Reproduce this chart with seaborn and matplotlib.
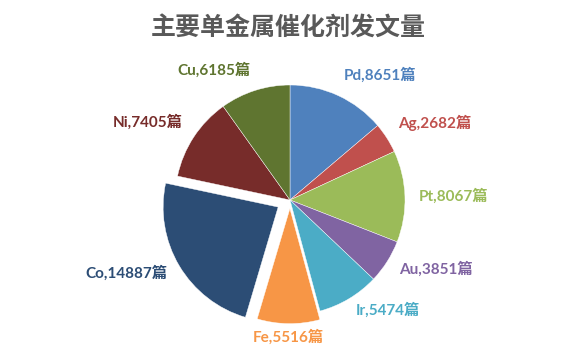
import numpy as np
import matplotlib
matplotlib.use("Agg")
import matplotlib.pyplot as plt
import seaborn as sns

# ---- data ----
metals = ["Pd", "Ag", "Pt", "Au", "Ir", "Fe", "Co", "Ni", "Cu"]
counts = [8651, 2682, 8067, 3851, 5474, 5516, 14887, 7405, 6185]
unit = "篇"
title = "主要单金属催化剂发文量"
colors = ["#4F81BD", "#C0504D", "#9BBB59", "#8064A2", "#4BACC6",
          "#F79646", "#2C4D75", "#772C2A", "#5F7530"]
explode = [0, 0, 0, 0, 0, 0.075, 0.12, 0, 0]

sns.set_theme(style="white")
plt.rcParams["font.family"] = ["Lato", "Noto Sans CJK SC", "DejaVu Sans"]

fig = plt.figure(figsize=(5.8, 3.53), dpi=100)
ax = fig.add_axes([0, 0, 1, 1])
pal = sns.color_palette(colors)

wedges, _ = ax.pie(counts, colors=pal, startangle=90, counterclock=False,
                   explode=explode, radius=1.0,
                   wedgeprops=dict(linewidth=0.3, edgecolor="white"))

R = 115.0  # px per data unit
cx, cy = 290.0, 353 - 200.0
ax.set_xlim(-cx / R, (580 - cx) / R)
ax.set_ylim(-cy / R, (353 - cy) / R)
ax.set_aspect("equal", adjustable="box")
ax.axis("off")

for w, m, c, col in zip(wedges, metals, counts, colors):
    ang = np.deg2rad((w.theta1 + w.theta2) / 2)
    ca, sa = np.cos(ang), np.sin(ang)
    x0, y0 = w.center
    r = 1.12
    x, y = x0 + r * ca, y0 + r * sa
    ha = "left" if ca > 0.25 else ("right" if ca < -0.25 else "center")
    va = "bottom" if sa > 0.3 else "center"
    ax.text(x, y, f"{m},{c}{unit}", ha=ha, va=va, color=col,
            fontsize=11, fontweight="bold")

fig.text(288 / 580, 1 - 29 / 353, title, ha="center", va="center",
         fontsize=18, fontweight="bold", color="#595959",
         family=["Noto Sans CJK SC", "DejaVu Sans"])

fig.savefig("out.png", dpi=100, facecolor="white")
